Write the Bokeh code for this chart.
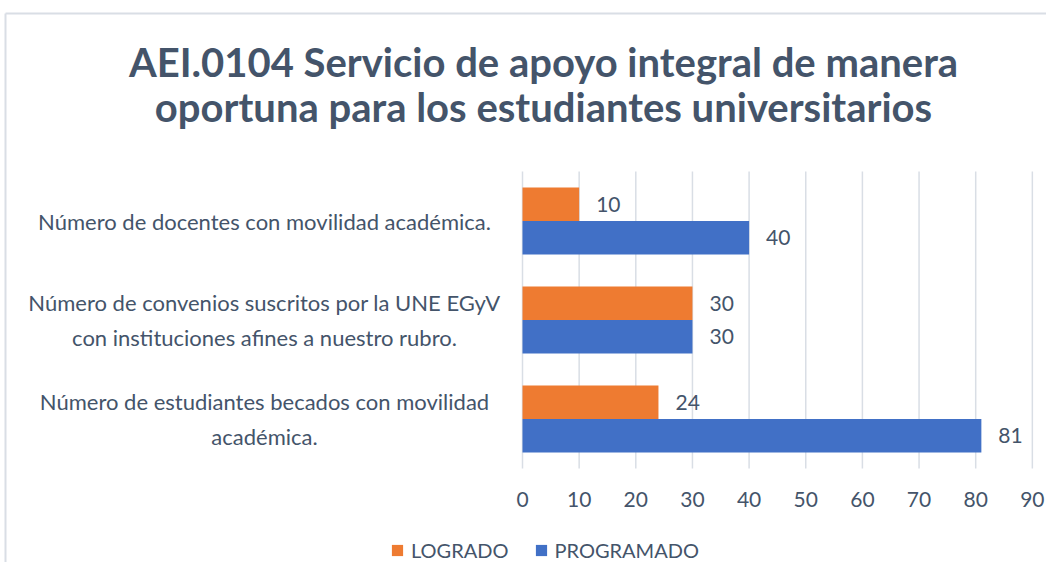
from bokeh.plotting import figure
from bokeh.models import Range1d, Legend, LegendItem, ColumnDataSource
from bokeh.core.properties import value
from bokeh.embed import file_html
from bokeh.resources import INLINE

# ---------------- data ----------------
title_lines = ["AEI.0104 Servicio de apoyo integral de manera",
               "oportuna para los estudiantes universitarios"]
categories = [
    "Número de docentes con movilidad académica.",
    "Número de convenios suscritos por la UNE EGyV\ncon instituciones afines a nuestro rubro.",
    "Número de estudiantes becados con movilidad\nacadémica.",
]
logrado = [10, 30, 24]
programado = [40, 30, 81]
series_names = ["LOGRADO", "PROGRAMADO"]
x_ticks = [0, 10, 20, 30, 40, 50, 60, 70, 80, 90]

# ---------------- style / layout ----------------
TEXT = "#44546A"
ORANGE = "#EE7B31"
BLUE = "#4170C6"
GRID = "#D9DEE5"
FONT = "Lato"
W, H = 1046, 562
X0_PX, PX_PER_X = 522, 5.665      # canvas x of value 0, pixels per unit
Y0_PX, PX_PER_Y = 468, 99         # canvas y of category band bottom, pixels per band


def dx(cx):
    return (cx - X0_PX) / PX_PER_X


def dy(cy):
    return (Y0_PX - cy) / PX_PER_Y


n = len(categories)
cat_y = [n - i - 0.5 for i in range(n)]
bar_h = 0.338

src = ColumnDataSource(dict(
    cat=categories,
    y_log=[y + bar_h / 2 for y in cat_y],
    y_prog=[y - bar_h / 2 for y in cat_y],
    y_cat=cat_y,
    logrado=logrado,
    programado=programado,
    logrado_txt=[str(v) for v in logrado],
    programado_txt=[str(v) for v in programado],
))

p = figure(width=W, height=H,
           x_range=Range1d(dx(0), dx(W)), y_range=Range1d(dy(H), dy(0)),
           x_axis_type=None, y_axis_type=None,
           output_backend="svg", toolbar_location=None,
           min_border=0, min_border_left=0, min_border_right=0,
           min_border_top=0, min_border_bottom=0)
p.grid.visible = False
p.outline_line_color = None
p.background_fill_color = "white"

# chart border (top and left edges)
p.segment(x0=[dx(5), dx(5)], y0=[dy(13), dy(13)], x1=[dx(W), dx(5)], y1=[dy(13), dy(H)],
          line_color=GRID, line_width=2)

# vertical grid lines at the tick values
p.segment(x0=x_ticks, x1=x_ticks, y0=[0] * len(x_ticks), y1=[n] * len(x_ticks),
          line_color=GRID, line_width=1.5)

# bars
r1 = p.hbar(y="y_log", left=0, right="logrado", height=bar_h,
            fill_color=ORANGE, line_color=None, source=src)
r2 = p.hbar(y="y_prog", left=0, right="programado", height=bar_h,
            fill_color=BLUE, line_color=None, source=src)

# value labels
lbl = dict(x_offset=17, text_baseline="middle", text_align="left",
           text_font=value(FONT), text_font_size="21px", text_color=TEXT, source=src)
p.text(x="logrado", y="y_log", text="logrado_txt", **lbl)
p.text(x="programado", y="y_prog", text="programado_txt", **lbl)

# x tick labels
p.text(x=x_ticks, y=[dy(499)] * len(x_ticks), text=[str(t) for t in x_ticks],
       text_align="center", text_baseline="middle",
       text_font=value(FONT), text_font_size="21px", text_color=TEXT)

# category labels
p.text(x=[dx(264)] * n, y=cat_y, text=categories,
       text_align="center", text_baseline="middle", text_line_height=1.32,
       text_font=value(FONT), text_font_size="22px", text_color=TEXT)

# title
p.text(x=[dx(543)] * 2, y=[dy(61), dy(106)], text=title_lines,
       text_align="center", text_baseline="middle",
       text_font=value(FONT), text_font_size="40px", text_font_style="bold",
       text_color=TEXT)

legend = Legend(items=[LegendItem(label=series_names[0], renderers=[r1]),
                       LegendItem(label=series_names[1], renderers=[r2])],
                orientation="horizontal", location=(390, 0),
                glyph_width=14, glyph_height=14, label_standoff=7, spacing=25,
                label_text_font=FONT, label_text_font_size="20px", label_text_color=TEXT,
                border_line_color=None, background_fill_alpha=0, padding=0, margin=0)
p.add_layout(legend)

open("out.html", "w").write(file_html(p, INLINE))
